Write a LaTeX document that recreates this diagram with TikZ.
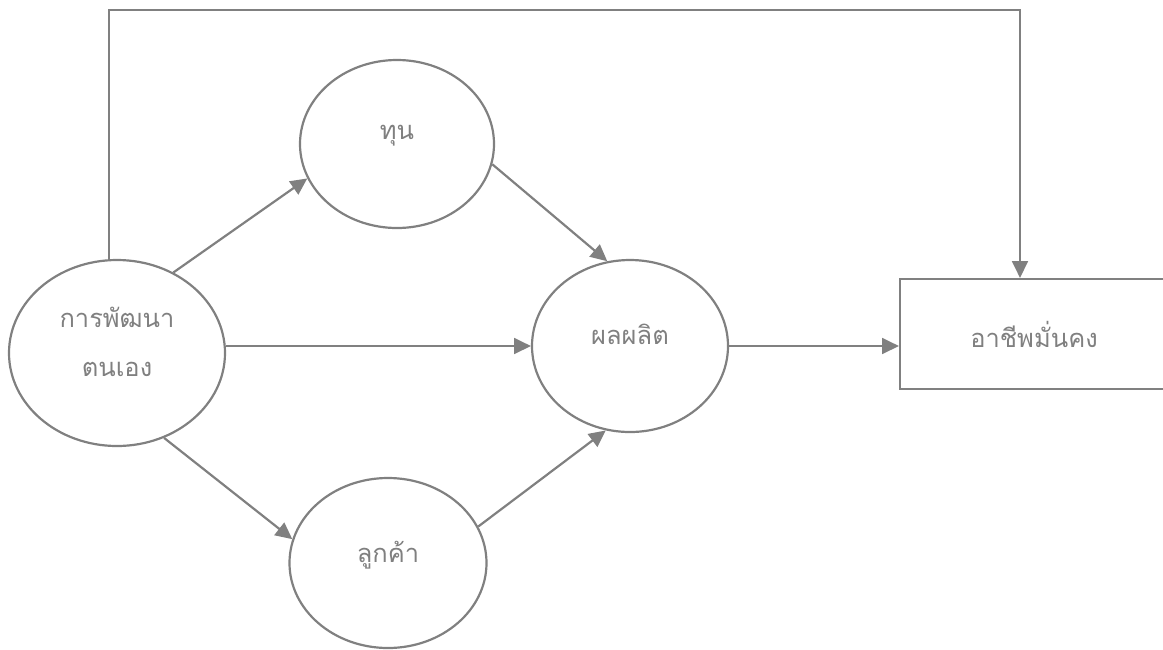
\documentclass[tikz,border=0pt]{standalone}
\usepackage{fontspec}
\newfontfamily\thaifont[Script=Thai]{Loma}
\usepackage{tikz}
\usetikzlibrary{arrows.meta,shapes.geometric}
\definecolor{linegray}{RGB}{128,128,128}

\begin{document}
\begin{tikzpicture}[auto,
    oval/.style={ellipse, draw=linegray, line width=1.25pt, text=linegray, inner sep=0pt,
      align=center, text depth=0.45cm, font=\thaifont\fontsize{14.5}{28}\selectfont},
    goal/.style={rectangle, draw=linegray, line width=1.25pt, text=linegray, inner sep=0pt,
      font=\thaifont\fontsize{14.5}{28}\selectfont},
    arr/.style={draw=linegray, line width=1.25pt, -{Triangle[length=9.5pt,width=9pt]}}]
          \useasboundingbox (0,0) rectangle (23.26,-12.98);
          \node[oval, minimum width=4.32cm, minimum height=3.72cm] (D) at (2.34,-7.06) {การพัฒนา\\ตนเอง};
          \node[oval, minimum width=3.88cm, minimum height=3.36cm] (K) at (7.94,-2.88) {ทุน};
          \node[oval, minimum width=3.92cm, minimum height=3.44cm] (O) at (12.6,-6.92) {ผลผลิต};
          \node[oval, minimum width=3.94cm, minimum height=3.4cm] (C) at (7.76,-11.26) {ลูกค้า};
          \node[goal, minimum width=5.36cm, minimum height=2.2cm] (J) at (20.68,-6.68) {อาชีพมั่นคง};
          \coordinate (T) at (20.4,-0.2);
          \draw[arr] (D.55) to (K.201);
          \draw[arr] (O.west -| D.east) to (O.west);
          \draw[arr] (D.-61) to (C.166);
          \draw[arr] (K.-12) to (O.105);
          \draw[arr] (C.22) to (O.254);
          \draw[arr] (O.east) to (O.east -| J.west);
          \draw[arr] (D.95) |- (T) -- (J.north -| T);
        \end{tikzpicture}
\end{document}
